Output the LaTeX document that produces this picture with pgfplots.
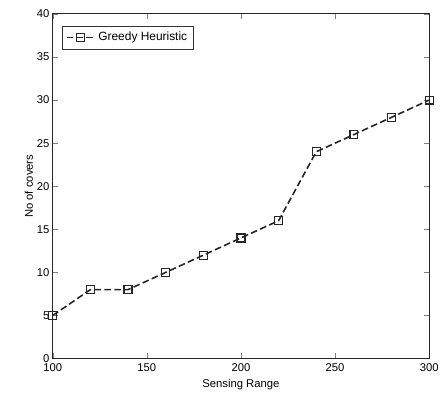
\documentclass[border=0pt]{standalone}
\usepackage{pgfplots}
\pgfplotsset{compat=1.18}
\usepackage{fontspec}
\setmainfont{Liberation Sans}
\begin{document}
\begin{tikzpicture}
\begin{axis}[
  scale only axis,
  width=284pt, height=260pt,
  xmin=100, xmax=300, ymin=0, ymax=40,
  xtick={100,150,...,300}, ytick={0,5,...,40},
  tick align=inside,
  tick pos=both,
  major tick length=4pt,
  /pgf/number format/assume math mode=true,
  tick label style={font=\fontsize{8.5}{10}\selectfont},
  label style={font=\fontsize{8.5}{10}\selectfont},
  xlabel={Sensing Range}, ylabel={No of covers},
  xlabel style={yshift=1pt},
  ylabel style={yshift=-4pt},
  xticklabel style={yshift=0pt},
  yticklabel style={xshift=1pt},
  axis line style={black!85, line width=0.7pt},
  legend style={at={(0.025,0.965)}, anchor=north west, font=\fontsize{9}{10}\selectfont, draw=black!80, line width=0.6pt, inner sep=2.5pt, legend cell align=left},
  legend image code/.code={\draw[#1] (0cm,0cm) -- (0.75cm,0cm); \draw[#1, mark repeat=2, mark phase=2] plot coordinates {(0cm,0cm) (0.375cm,0cm) (0.75cm,0cm)};},
]
\addplot[black!85, dash pattern=on 5pt off 2.5pt, line width=1.2pt, mark=square, mark size=3pt, mark options={solid, line width=0.9pt}]
coordinates {(100,5)(120,8)(140,8)(160,10)(180,12)(200,14)(220,16)(240,24)(260,26)(280,28)(300,30)};
\addlegendentry{Greedy Heuristic}
\end{axis}
\path (current axis.south west) ++(-39.75pt,-26.25pt) coordinate (bbA);
\path (current axis.north east) ++(8.25pt,10.5pt) coordinate (bbB);
\path (bbA) (bbB);
\end{tikzpicture}
\end{document}
